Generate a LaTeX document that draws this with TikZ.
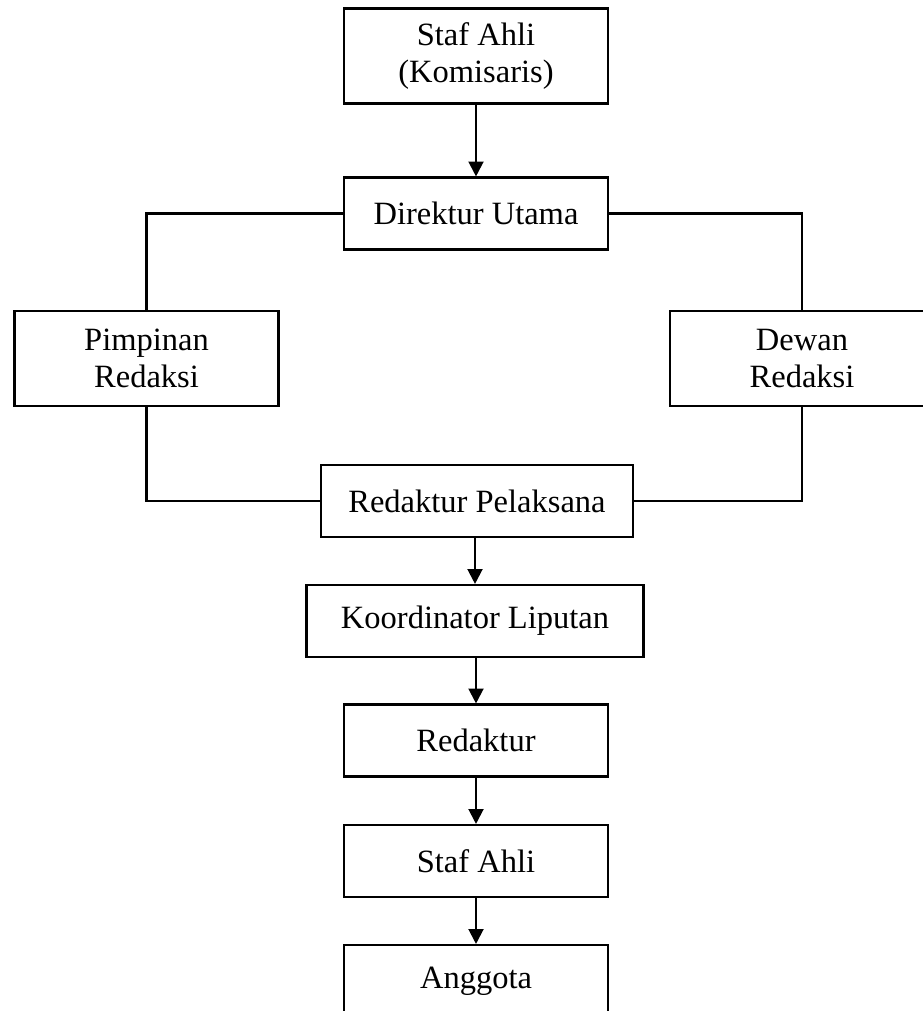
\documentclass[tikz,border=0pt]{standalone}
\usepackage{fontspec}
\setmainfont{Liberation Serif}
\usetikzlibrary{positioning,arrows.meta}

\begin{document}
\begin{tikzpicture}[
    x=0.02cm, y=-0.02cm,
    box/.style={draw, line width=1.2pt, minimum width=5.28cm, align=center, font=\fontsize{18.5}{21.5}\selectfont},
    tall/.style={minimum height=1.9cm},
    flat/.style={minimum height=1.44cm},
    arr/.style={-{Triangle[length=8.5pt,width=8.5pt]}, line width=1.2pt},
    link/.style={line width=1.2pt}
]
    \clip (0,0) rectangle (923,1011);

    % --- Top ---
    \node[box, tall] (komisaris) at (476,56) {Staf Ahli\\(Komisaris)};
    \node[box, flat] (dirut) at (476,213.5) {Direktur Utama};
    \draw[arr] (komisaris) -- (dirut);

    % --- Side boxes ---
    \node[box, tall] (pimred) at (146.5,358.5) {Pimpinan\\Redaksi};
    \node[box, tall] (dewan) at (802,358.5) {Dewan\\Redaksi};
    \node[box, flat, minimum width=6.24cm] (redpel) at (477,501) {Redaktur Pelaksana};
    \draw[link] (dirut.west) -| (pimred.north);
    \draw[link] (dirut.east) -| (dewan.north);
    \draw[link] (pimred.south) |- (redpel.west);
    \draw[link] (dewan.south) |- (redpel.east);

    % --- Lower chain ---
    \node[box, flat, minimum width=6.74cm] (korlip) at (475,621) {Koordinator Liputan};
    \node[box, flat] (redaktur) at (476,740.5) {Redaktur};
    \node[box, flat] (stafahli) at (476,861) {Staf Ahli};
    \node[box, flat] (anggota) at (476,981) {Anggota};
    \draw[arr] (redpel.south -| korlip) -- (korlip);
    \draw[arr] (korlip.south -| redaktur) -- (redaktur);
    \draw[arr] (redaktur) -- (stafahli);
    \draw[arr] (stafahli) -- (anggota);
\end{tikzpicture}
\end{document}
